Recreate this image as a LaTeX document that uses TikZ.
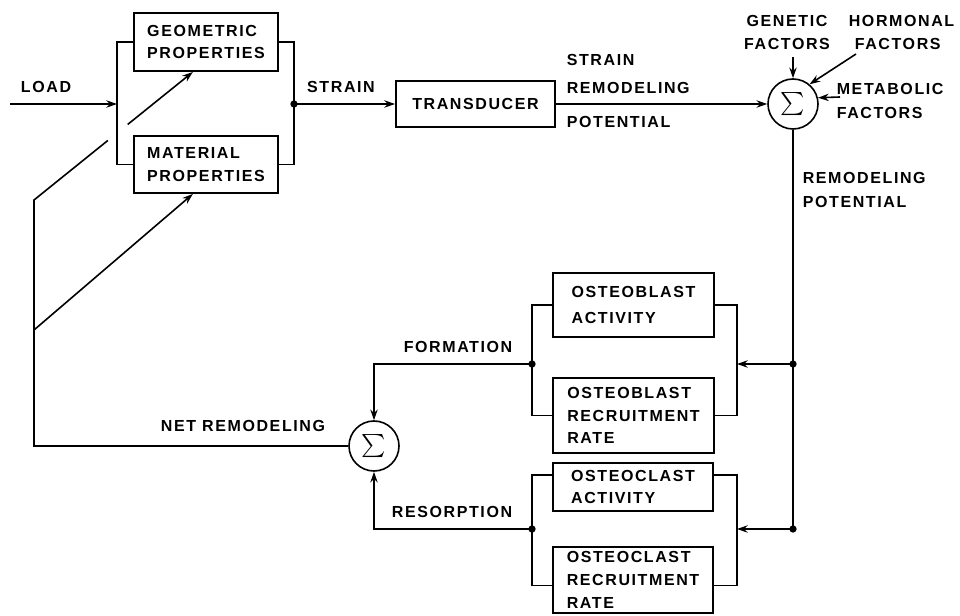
\documentclass[tikz,border=0pt]{standalone}
\usepackage{exscale}
\usepackage{fontspec}
\setmainfont{Liberation Sans}
\newfontfamily\labfont{Liberation Sans}[LetterSpace=10]
\usetikzlibrary{arrows.meta,calc}
\begin{document}
\begin{tikzpicture}[x=0.75pt,y=-0.75pt,
  line width=1.2pt,
  >={Stealth[length=8pt,width=5.5pt]},
  every node/.style={font=\labfont\bfseries\fontsize{12}{17}\selectfont, inner sep=0pt},
  blk/.style={draw, rectangle, align=left, line width=1.4pt},
  sumnode/.style={draw, circle, minimum size=37.5pt, font=\fontsize{19}{19}\selectfont},
  dot/.style={circle, fill, inner sep=0pt, minimum size=5.5pt}]
\useasboundingbox (0,0) rectangle (960,616);

% blocks
\node[blk, minimum width=108pt, minimum height=43.5pt] (geo) at (206,42) {GEOMETRIC\\PROPERTIES};
\node[blk, minimum width=108pt, minimum height=42.75pt] (mat) at (206,164.5) {MATERIAL\\PROPERTIES};
\node[blk, minimum width=119.25pt, minimum height=34.5pt] (trans) at (475.5,104) {TRANSDUCER};
\node[blk, minimum width=120.75pt, minimum height=48pt] (obA) at (633.5,305) {OSTEOBLAST\\[3pt]ACTIVITY};
\node[blk, minimum width=120.75pt, minimum height=56.25pt] (obR) at (633.5,415.5) {OSTEOBLAST\\RECRUITMENT\\RATE};
\node[blk, minimum width=120pt, minimum height=36pt] (ocA) at (633,487) {OSTEOCLAST\\ACTIVITY};
\node[blk, minimum width=120pt, minimum height=49.5pt] (ocR) at (633,580) {OSTEOCLAST\\RECRUITMENT\\RATE};
\node[sumnode] (s1) at (793,104) {$\sum$};
\node[sumnode] (s2) at (374,446) {$\sum$};

% coordinates
\coordinate (loadS) at (10,104);
\coordinate (lb) at (117,104);
\coordinate (rb) at (294,104);
\coordinate (genS) at (793,57);
\coordinate (horS) at (856,54);
\coordinate (metS) at (840,97);
\coordinate (jB) at (793,364);
\coordinate (jC) at (793,529);
\coordinate (obRB) at (737,364);
\coordinate (ocRB) at (737,529);
\coordinate (obLB) at (532,364);
\coordinate (ocLB) at (532,529);
\coordinate (fbC) at (34,446);
\coordinate (fbTop) at (34,200);
\coordinate (fbMid) at (34,330);
\coordinate (tipG) at ($(geo.south west)!0.41!(geo.south east)$);
\coordinate (tipM) at ($(mat.south west)!0.41!(mat.south east)$);

% top chain
\draw (geo.west) -| (lb) |- (mat.west);
\draw (geo.east) -| (rb) |- (mat.east);
\draw[->] (loadS) -- (lb);
\node[dot] (d1) at (rb) {};
\draw[->] (rb) -- (trans.west);
\draw[->] (trans.east) -- (s1.west);
\draw[->] (genS) -- (s1.north);
\draw[->] (horS) -- (s1.50);
\draw[->] (metS) -- (s1.14);

% remodeling potential
\draw (s1.south) -- (jC);
\node[dot] (d2) at (jB) {};
\node[dot] (d3) at (jC) {};
\draw[->] (jB) -- (obRB);
\draw[->] (jC) -- (ocRB);
\draw (obA.east) -| (obRB) |- (obR.east);
\draw ([yshift=9pt]ocA.east) -| (ocRB) |- ([yshift=-4pt]ocR.east);

% formation / resorption
\draw (obA.west) -| (obLB) |- (obR.west);
\draw ([yshift=9pt]ocA.west) -| (ocLB) |- ([yshift=-4pt]ocR.west);
\node[dot] (d4) at (obLB) {};
\node[dot] (d5) at (ocLB) {};
\draw[->] (obLB) -| (s2.north);
\draw[->] (ocLB) -| (s2.south);

% feedback
\draw (s2.west) -- (fbC) -- (fbTop) -- ($(fbTop)!0.465!(tipG)$);
\draw[->] ($(fbTop)!0.59!(tipG)$) -- (tipG);
\draw[->] (fbMid) -- (tipM);

% labels
\node (tLoad) at (46,87) {LOAD};
\node (tStrain) at (341,87) {STRAIN};
\node[anchor=west] (tS1) at (566,60) {STRAIN};
\node[anchor=west] (tS2) at (566,88) {REMODELING};
\node[anchor=west] (tS3) at (566,122) {POTENTIAL};
\node[align=center] (tGen) at (787,32.5) {GENETIC\\FACTORS};
\node[align=left, anchor=east] (tHor) at (955,32.5) {HORMONAL\\\ FACTORS};
\node[align=left, anchor=west] (tMet) at (836,100.5) {METABOLIC\\[1pt]FACTORS};
\node[align=left, anchor=west] (tRP) at (802,189.5) {REMODELING\\[1pt]POTENTIAL};
\node (tForm) at (458,347) {FORMATION};
\node (tRes) at (452,512) {RESORPTION};
\node (tNet) at (243,426) {NET REMODELING};
\end{tikzpicture}
\end{document}
